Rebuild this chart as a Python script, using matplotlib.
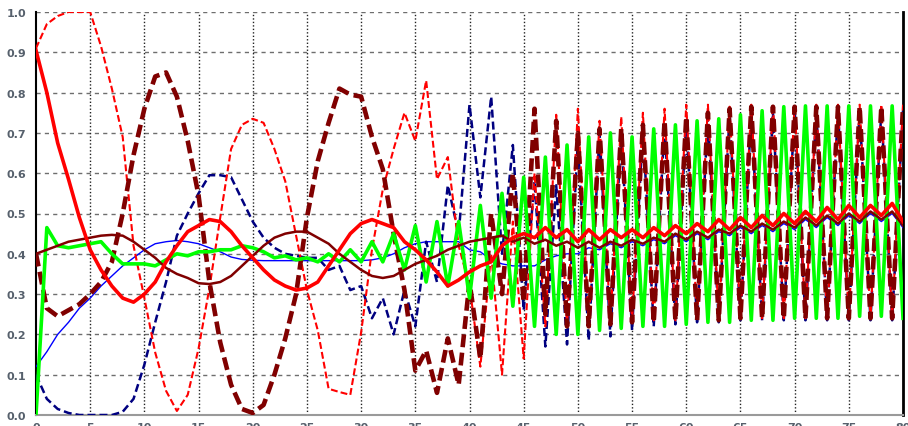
import numpy as np
import matplotlib
matplotlib.use('Agg')
import matplotlib.pyplot as plt

# --- Data: one sample per time step, t = 0..80 ---
t = list(range(81))

red_solid = [
    0.905, 0.80, 0.675, 0.585, 0.49, 0.41, 0.36, 0.32, 0.29, 0.28,
    0.30, 0.33, 0.38, 0.42, 0.455, 0.47, 0.485, 0.48, 0.455, 0.42,
    0.39, 0.36, 0.335, 0.32, 0.31, 0.315, 0.33, 0.37, 0.41, 0.45,
    0.475, 0.485, 0.475, 0.465, 0.43, 0.41, 0.385, 0.355, 0.32, 0.335,
    0.355, 0.37, 0.38, 0.42, 0.44, 0.45, 0.44, 0.465, 0.44, 0.46,
    0.43, 0.46, 0.435, 0.46, 0.44, 0.46, 0.44, 0.465, 0.445, 0.47,
    0.45, 0.475, 0.455, 0.485, 0.46, 0.49, 0.465, 0.495, 0.47, 0.50,
    0.475, 0.505, 0.48, 0.515, 0.485, 0.52, 0.49, 0.52, 0.495, 0.525,
    0.48]

dark_red_solid = [
    0.40, 0.41, 0.42, 0.43, 0.435, 0.44, 0.445, 0.447, 0.445, 0.43,
    0.41, 0.39, 0.365, 0.35, 0.34, 0.327, 0.325, 0.33, 0.345, 0.37,
    0.395, 0.42, 0.44, 0.45, 0.455, 0.455, 0.44, 0.425, 0.40, 0.38,
    0.36, 0.345, 0.34, 0.345, 0.36, 0.375, 0.385, 0.395, 0.41, 0.42,
    0.43, 0.435, 0.44, 0.445, 0.43, 0.44, 0.425, 0.435, 0.42, 0.43,
    0.415, 0.43, 0.415, 0.43, 0.42, 0.435, 0.425, 0.44, 0.43, 0.45,
    0.435, 0.455, 0.44, 0.46, 0.45, 0.47, 0.455, 0.475, 0.46, 0.48,
    0.465, 0.49, 0.47, 0.495, 0.475, 0.50, 0.48, 0.505, 0.485, 0.505,
    0.47]

blue_solid = [
    0.12, 0.157, 0.20, 0.23, 0.265, 0.29, 0.32, 0.345, 0.37, 0.39,
    0.41, 0.425, 0.43, 0.433, 0.43, 0.425, 0.415, 0.405, 0.392, 0.386,
    0.384, 0.383, 0.383, 0.383, 0.383, 0.383, 0.383, 0.383, 0.383, 0.383,
    0.383, 0.385, 0.39, 0.40, 0.415, 0.425, 0.43, 0.43, 0.43, 0.43,
    0.41, 0.405, 0.385, 0.375, 0.37, 0.37, 0.37, 0.385, 0.395, 0.40,
    0.40, 0.415, 0.41, 0.425, 0.415, 0.43, 0.42, 0.435, 0.425, 0.445,
    0.43, 0.45, 0.435, 0.455, 0.445, 0.465, 0.45, 0.47, 0.455, 0.475,
    0.46, 0.485, 0.465, 0.49, 0.47, 0.495, 0.475, 0.50, 0.48, 0.50,
    0.465]

green = [
    0.0, 0.465, 0.42, 0.415, 0.42, 0.425, 0.43, 0.40, 0.375, 0.375,
    0.375, 0.37, 0.385, 0.40, 0.395, 0.405, 0.405, 0.41, 0.41, 0.42,
    0.415, 0.405, 0.39, 0.395, 0.385, 0.39, 0.38, 0.40, 0.38, 0.41,
    0.38, 0.43, 0.38, 0.45, 0.36, 0.47, 0.33, 0.48, 0.32, 0.48,
    0.29, 0.52, 0.29, 0.55, 0.27, 0.59, 0.22, 0.64, 0.20, 0.67,
    0.20, 0.69, 0.21, 0.70, 0.215, 0.69, 0.22, 0.71, 0.22, 0.72,
    0.225, 0.73, 0.23, 0.735, 0.23, 0.745, 0.235, 0.755, 0.235, 0.765,
    0.24, 0.767, 0.24, 0.767, 0.24, 0.767, 0.245, 0.767, 0.245, 0.767,
    0.24]

red_dashed = [
    0.91, 0.97, 0.99, 1.0, 1.0, 1.0, 0.915, 0.81, 0.69, 0.42,
    0.29, 0.155, 0.06, 0.01, 0.05, 0.165, 0.315, 0.49, 0.66, 0.72,
    0.735, 0.725, 0.66, 0.58, 0.445, 0.31, 0.21, 0.065, 0.057, 0.05,
    0.205, 0.41, 0.56, 0.66, 0.75, 0.68, 0.83, 0.585, 0.64, 0.42,
    0.32, 0.12, 0.40, 0.10, 0.48, 0.14, 0.60, 0.22, 0.745, 0.22,
    0.76, 0.225, 0.73, 0.23, 0.74, 0.23, 0.75, 0.235, 0.76, 0.235,
    0.77, 0.24, 0.77, 0.24, 0.765, 0.24, 0.77, 0.24, 0.77, 0.24,
    0.77, 0.24, 0.77, 0.24, 0.77, 0.24, 0.77, 0.24, 0.77, 0.24,
    0.77]

dark_red_dashed = [
    0.40, 0.265, 0.245, 0.26, 0.275, 0.30, 0.33, 0.38, 0.50, 0.645,
    0.76, 0.84, 0.85, 0.79, 0.68, 0.545, 0.33, 0.18, 0.075, 0.015,
    0.005, 0.025, 0.10, 0.19, 0.30, 0.49, 0.63, 0.725, 0.81, 0.795,
    0.79, 0.69, 0.61, 0.45, 0.31, 0.11, 0.16, 0.055, 0.19, 0.075,
    0.33, 0.14, 0.50, 0.30, 0.60, 0.28, 0.76, 0.25, 0.73, 0.22,
    0.70, 0.22, 0.71, 0.225, 0.71, 0.23, 0.72, 0.23, 0.73, 0.235,
    0.74, 0.235, 0.75, 0.235, 0.76, 0.24, 0.765, 0.24, 0.765, 0.24,
    0.765, 0.24, 0.765, 0.24, 0.765, 0.24, 0.765, 0.24, 0.765, 0.24,
    0.765]

navy_dashed = [
    0.10, 0.04, 0.015, 0.005, 0.0, 0.0, 0.0, 0.0, 0.008, 0.04,
    0.125, 0.23, 0.33, 0.445, 0.50, 0.55, 0.595, 0.595, 0.59, 0.535,
    0.48, 0.44, 0.415, 0.40, 0.395, 0.39, 0.39, 0.36, 0.37, 0.31,
    0.32, 0.24, 0.29, 0.20, 0.31, 0.22, 0.43, 0.33, 0.57, 0.45,
    0.77, 0.54, 0.79, 0.40, 0.67, 0.26, 0.58, 0.17, 0.57, 0.175,
    0.68, 0.185, 0.70, 0.195, 0.70, 0.21, 0.71, 0.22, 0.72, 0.225,
    0.73, 0.23, 0.74, 0.23, 0.745, 0.235, 0.75, 0.235, 0.75, 0.235,
    0.755, 0.235, 0.755, 0.235, 0.755, 0.235, 0.755, 0.235, 0.755, 0.235,
    0.755]

x_ticks = list(range(0, 81, 5))
y_ticks = [0.0, 0.1, 0.2, 0.3, 0.4, 0.5, 0.6, 0.7, 0.8, 0.9, 1.0]

LABEL_COLOR = '#56606c'

fig = plt.figure(figsize=(9.08, 4.27), dpi=100)
ax = fig.add_axes([36 / 908, 11 / 427, 867 / 908, 403 / 427])

# thin lines first, heavy ones on top
ax.plot(t, blue_solid, color='#0000ff', lw=1.0, zorder=3)
ax.plot(t, navy_dashed, color='#000080', lw=1.8, dashes=(3.2, 1.6), zorder=4)
ax.plot(t, red_dashed, color='#ff0000', lw=1.5, dashes=(3.3, 1.5), zorder=5)
ax.plot(t, dark_red_dashed, color='#800000', lw=3.3, dashes=(2.8, 1.2), zorder=6)
ax.plot(t, green, color='#00ff00', lw=2.6, zorder=7)
ax.plot(t, dark_red_solid, color='#800000', lw=1.8, zorder=8)
ax.plot(t, red_solid, color='#ff0000', lw=2.6, zorder=9)

ax.set_xlim(0, 80)
ax.set_ylim(0, 1.0)
ax.set_xticks(x_ticks)
ax.set_yticks(y_ticks)
ax.set_yticklabels([f'{v:.1f}' for v in y_ticks])

# grid: dashed horizontals, dotted verticals
for v in y_ticks[1:]:
    ax.axhline(v, color='#6e6e6e', lw=1.0, dashes=(3, 3), zorder=1)
for v in x_ticks[1:-1]:
    ax.axvline(v, color='#222222', lw=1.0, dashes=(1, 1.5), zorder=1)

ax.spines['top'].set_visible(False)
ax.spines['left'].set_color('black')
ax.spines['left'].set_linewidth(1.5)
ax.spines['right'].set_color('black')
ax.spines['right'].set_linewidth(2.0)
ax.spines['bottom'].set_color('#9a9a9a')
ax.spines['bottom'].set_linewidth(1.5)

ax.tick_params(axis='both', length=0, labelsize=8, labelcolor=LABEL_COLOR)
ax.tick_params(axis='y', pad=7)
ax.tick_params(axis='x', pad=5)
for lbl in ax.get_xticklabels() + ax.get_yticklabels():
    lbl.set_fontweight('bold')

fig.savefig('out.png', dpi=100)
